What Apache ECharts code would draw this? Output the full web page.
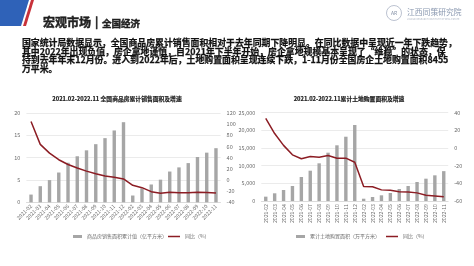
<!DOCTYPE html>
<html><head><meta charset="utf-8">
<script src="https://cdn.jsdelivr.net/npm/echarts@6/dist/echarts.min.js"></script>
<style>html,body{margin:0;padding:0;background:#fff}#c{width:474px;height:266px}</style>
</head><body><div id="c"></div>
<script>
const categories = ['2021-02','2021-03','2021-04','2021-05','2021-06','2021-07','2021-08','2021-09','2021-10','2021-11','2021-12',
  '2022-02','2022-03','2022-04','2022-05','2022-06','2022-07','2022-08','2022-09','2022-10','2022-11'];
const salesArea = [1.73,3.61,4.97,6.67,8.86,10.31,11.64,13.02,14.37,16.09,17.94,1.52,3.10,3.99,5.07,6.89,7.82,8.78,10.14,11.12,12.12];
const salesYoY = [104.9,63.8,48.1,36.3,27.7,21.5,15.9,11.3,7.3,4.8,1.9,-9.6,-13.8,-20.9,-23.6,-22.2,-23.1,-23.0,-22.2,-22.3,-23.3];
const landArea = [1230,2180,3110,4250,6800,8580,10670,13680,15770,18200,21520,650,1130,1610,2270,3400,4250,5380,6320,7270,8455];
const landYoY = [33.6,16.4,3.0,-7.7,-12.2,-9.6,-10.4,-8.5,-11.5,-11.5,-16.1,-43.5,-43.8,-47.4,-47.9,-49.5,-49.7,-50.8,-53.5,-54.3,-55.2];
const salesAxisTicks = [0,20,5];
const salesYoYTicks = [-40,120,20];
const landAxisTicks = [0,25000,5000];
const landYoYTicks = [-60,40,20];
const chartTitles = ['2021.02-2022.11 全国商品房累计销售面积及增速','2021.02-2022.11累计土地购置面积及增速'];
const barNames = ['商品房销售面积累计值（亿平方米）','累计土地购置面积（万平方米）'];
const lineName = '同比（%）';
const paragraph = [
 '国家统计局数据显示，全国商品房累计销售面积相对于去年同期下降明显。在同比数据中呈现近一年下跌趋势，',
 '其中2022年出现负值，房企拿地谨慎，自2021年下半年开始，房企拿地规模基本呈现了“维稳”的状态，保',
 '持到去年年末12月份。进入到2022年后，土地购置面积呈现连续下跌，1-11月份全国房企土地购置面积8455',
 '万平米。'
];

const FF = '"Noto Sans CJK SC","Noto Sans",sans-serif';
const BAR = '#a6a6a6', LINE = '#8c1d24', AX = '#6b6b6b', GRID = '#dedede';

function yAx(grid, t, show, pos){
  return {type:'value', gridIndex:grid, position:pos, min:t[0], max:t[1], interval:t[2],
    axisLine:{show:false}, axisTick:{show:false},
    axisLabel:{color:AX, fontSize:5.5, fontFamily:FF, margin:6},
    splitLine:{show:show, lineStyle:{color:GRID, width:0.6}}};
}
function xAx(grid, rot){
  return {type:'category', gridIndex:grid, data:categories,
    axisLine:{show:true, lineStyle:{color:'#d0d0d0', width:0.6}}, axisTick:{show:false},
    axisLabel:{interval:0, rotate:rot, color:AX, fontSize:5.2, fontFamily:FF, margin:3}};
}
function boldText(x, y, text, size, fill, extra){
  return Object.assign({type:'text', x:x, y:y, style:Object.assign({text:text, font:'bold '+size+'px '+FF,
    fill:fill, stroke:fill, lineWidth:0.45, verticalAlign:'middle'}, extra||{})});
}
const graphics = [
  {type:'polygon', shape:{points:[[0,0],[29,0],[21,26],[0,26]]}, style:{fill:'#2f62b8'}},
  {type:'polygon', shape:{points:[[31,0],[34,0],[26,26],[23,26]]}, style:{fill:'#c8323a'}},
  boldText(43, 22, '宏观市场', 12, '#1f1f1f'),
  boldText(95, 22, '|', 11, '#1f1f1f'),
  boldText(102, 23, '全国经济', 9.5, '#1f1f1f'),
  {type:'circle', shape:{cx:394, cy:13, r:7.5}, style:{fill:'none', stroke:'#a9b3c4', lineWidth:0.8}},
  {type:'text', x:394, y:13.5, style:{text:'AR', font:'5px '+FF, fill:'#8793a8', align:'center', verticalAlign:'middle'}},
  {type:'text', x:407, y:12.5, style:{text:'江西同策研究院', font:'7.8px '+FF, fill:'#8a98b0', verticalAlign:'middle'}},
  {type:'text', x:407, y:19.5, style:{text:'JIANGXI RESEARCH INSTITUTE OF REAL ESTATE', font:'2.4px '+FF, fill:'#b0b8c6', verticalAlign:'middle'}},
  boldText(117, 99, chartTitles[0], 5.8, '#222', {align:'center', lineWidth:0.2}),
  boldText(349, 99, chartTitles[1], 5.8, '#222', {align:'center', lineWidth:0.2})
];
const lineY = [42.7, 51.3, 60, 68.8];
paragraph.forEach((t,i)=>graphics.push(boldText(22, lineY[i], t, 8.9, '#111', {lineWidth:0.25})));

const chart = echarts.init(document.getElementById('c'), null, {renderer:'canvas'});
chart.setOption({
  animation:false,
  backgroundColor:'#fff',
  graphic:graphics,
  grid:[
    {left:26.4, top:113, width:194.2, height:89.3},
    {left:261.3, top:112.7, width:186.9, height:88.3}
  ],
  xAxis:[xAx(0,45), xAx(1,90)],
  yAxis:[yAx(0,salesAxisTicks,true,'left'), yAx(0,salesYoYTicks,false,'right'),
         yAx(1,landAxisTicks,true,'left'), yAx(1,landYoYTicks,false,'right')],
  legend:[
    {data:[barNames[0]], left:68, top:229, itemWidth:9, itemHeight:3, icon:'rect', itemGap:4,
      textStyle:{fontSize:5, color:AX, fontFamily:FF}},
    {data:[lineName], left:163, top:229, itemWidth:12, itemHeight:1.5, icon:'rect',
      textStyle:{fontSize:5, color:AX, fontFamily:FF}},
    {data:[barNames[1]], left:291, top:229, itemWidth:9, itemHeight:3, icon:'rect',
      textStyle:{fontSize:5, color:AX, fontFamily:FF}},
    {data:[lineName], left:381, top:229, itemWidth:12, itemHeight:1.5, icon:'rect',
      textStyle:{fontSize:5, color:AX, fontFamily:FF}}
  ],
  series:[
    {name:barNames[0], type:'bar', xAxisIndex:0, yAxisIndex:0, data:salesArea, barWidth:3.4, itemStyle:{color:BAR}},
    {name:lineName, type:'line', xAxisIndex:0, yAxisIndex:1, data:salesYoY, showSymbol:false, symbol:'none',
      lineStyle:{color:LINE, width:1.5}, itemStyle:{color:LINE}},
    {name:barNames[1], type:'bar', xAxisIndex:1, yAxisIndex:2, data:landArea, barWidth:3.4, itemStyle:{color:BAR}},
    {name:lineName, type:'line', xAxisIndex:1, yAxisIndex:3, data:landYoY, showSymbol:false, symbol:'none',
      lineStyle:{color:LINE, width:1.5}, itemStyle:{color:LINE}}
  ]
});
</script></body></html>
